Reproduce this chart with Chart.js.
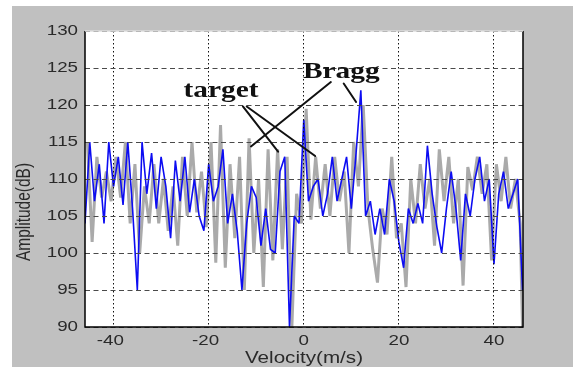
<!DOCTYPE html>
<html>
<head>
<meta charset="utf-8">
<script src="https://cdn.jsdelivr.net/npm/chart.js@4.4.1/dist/chart.umd.min.js"></script>
<style>
  html, body { margin: 0; padding: 0; background: #ffffff; }
  canvas { display: block; }
</style>
</head>
<body>
<canvas id="spectrum" width="573" height="367"></canvas>
<script>
// Doppler spectrum: two channels, amplitude (dB) against radial velocity (m/s)
const blueVelocity = [
  -46, -45, -44, -43, -42, -41, -40, -39, -38, -37, -36, -35, -34, -33, -32, -31,
  -30, -29, -28, -27, -26, -25, -24, -23, -22, -21, -20, -19, -18, -17, -16, -15,
  -14, -13, -12, -11, -10, -9, -8, -7, -6, -5, -4, -3, -2, -1, 0, 1,
  2, 3, 4, 5, 6, 7, 8, 9, 10, 11, 12, 13, 14, 15, 16, 17,
  18, 19, 20, 21, 22, 23, 24, 25, 26, 27, 28, 29, 30, 31, 32, 33,
  34, 35, 36, 37, 38, 39, 40, 41, 42, 43, 44, 45, 46
];
const blueAmplitude = [
  104, 115, 107, 112, 104, 115, 109, 113, 106.5, 115, 106, 95, 115, 108, 113.5, 106,
  113, 109, 102, 112.5, 107, 113, 105.5, 110, 105, 103, 112, 107, 109, 114, 104, 108,
  103, 95, 104, 109, 107.5, 101, 106, 100.5, 100, 111, 113, 90, 105, 104, 118, 107,
  109, 110, 105, 108, 113, 107, 110, 113, 106, 113.5, 122, 105, 107, 102.5, 106, 102.5,
  110, 107, 101.5, 98, 106, 104, 106.7, 104, 114.5, 108, 103.5, 100, 106, 111, 106, 99,
  108, 105, 110, 113, 107, 110, 98.5, 108, 111, 106, 108, 110, 95
];
const grayVelocity = [
  -45.5, -44.5, -43.5, -42.5, -41.5, -40.5, -39.5, -38.5, -37.5, -36.5, -35.5, -34.5,
  -33.5, -32.5, -31.5, -30.5, -29.5, -28.5, -27.5, -26.5, -25.5, -24.5, -23.5, -22.5,
  -21.5, -20.5, -19.5, -18.5, -17.5, -16.5, -15.5, -14.5, -13.5, -12.5, -11.5, -10.5,
  -9.5, -8.5, -7.5, -6.5, -5.5, -4.5, -3.5, -2.5, -1.5, -0.5, 0.5, 1.5,
  2.5, 3.5, 4.5, 5.5, 6.5, 7.5, 8.5, 9.5, 10.5, 11.5, 12.5, 13.5,
  14.5, 15.5, 16.5, 17.5, 18.5, 19.5, 20.5, 21.5, 22.5, 23.5, 24.5, 25.5,
  26.5, 27.5, 28.5, 29.5, 30.5, 31.5, 32.5, 33.5, 34.5, 35.5, 36.5, 37.5,
  38.5, 39.5, 40.5, 41.5, 42.5, 43.5, 44.5, 45.5, 46
];
const grayAmplitude = [
  115, 101.5, 113, 107.5, 111, 107, 113, 107.5, 115, 104, 112, 100,
  109, 104, 112, 104, 110, 103, 109, 101, 113, 105, 115, 105.5,
  111, 103.5, 115, 98.7, 117.3, 98, 112, 102, 113, 95, 115.5, 100,
  110, 95.4, 114, 99, 114, 100.5, 113, 90, 108, 104, 119.5, 104.5,
  113, 106, 112, 105, 113, 107, 111, 100, 115, 109, 120, 106,
  100.5, 96, 106, 102.5, 113, 102, 104, 95.4, 110, 104, 112, 106,
  110, 101, 114, 107, 113, 104, 110, 95.6, 111.6, 108.5, 113, 108,
  112, 99, 112, 107, 113, 106, 110, 104, 90
];
const xTickValues = [-40, -20, 0, 20, 40];
const yTickValues = [90, 95, 100, 105, 110, 115, 120, 125, 130];
const xAxisTitle = 'Velocity(m/s)';
const yAxisTitle = 'Amplitude(dB)';
const annotationWords = ['target', 'Bragg'];

// Callout placement, in axis units
const callouts = {
  words: [
    { x: -17.4, y: 121.1 },
    { x: 7.9, y: 123.6 }
  ],
  pointers: [
    [-12.8, 119.8, -5.4, 113.7],
    [-12.0, 119.8, 2.4, 113.1],
    [5.7, 123.1, -11.1, 114.4],
    [8.4, 122.9, 11.0, 120.4]
  ]
};

const STRETCH = 1.25;   // text is drawn horizontally widened

function wideText(ctx, text, x, y, align, baseline) {
  ctx.save();
  ctx.translate(x, y);
  ctx.scale(STRETCH, 1);
  ctx.textAlign = align;
  ctx.textBaseline = baseline;
  ctx.fillText(text, 0, 0);
  ctx.restore();
}

const framePlugin = {
  id: 'frame',
  beforeDraw(chart) {
    const { ctx, width, height, chartArea: a } = chart;
    ctx.save();
    ctx.fillStyle = '#ffffff';
    ctx.fillRect(0, 0, width, height);
    ctx.fillStyle = '#c0c0c0';
    ctx.fillRect(12, 6, width - 12, height - 6);
    ctx.fillStyle = '#ffffff';
    ctx.fillRect(a.left, a.top, a.right - a.left, a.bottom - a.top);
    ctx.restore();
  },
  afterDraw(chart) {
    const { ctx, chartArea: a } = chart;
    const xs = chart.scales.x, ys = chart.scales.y;
    ctx.save();

    // axes box
    ctx.lineWidth = 1.5;
    ctx.strokeStyle = '#000000';
    ctx.beginPath();
    ctx.moveTo(a.left, a.top);
    ctx.lineTo(a.left, a.bottom);
    ctx.lineTo(a.right, a.bottom);
    ctx.lineTo(a.right, a.top);
    ctx.stroke();
    ctx.strokeStyle = '#dcdcdc';
    ctx.beginPath();
    ctx.moveTo(a.left, a.top);
    ctx.lineTo(a.right, a.top);
    ctx.stroke();

    // tick labels
    ctx.fillStyle = '#2a2a2a';
    ctx.font = '15px "Liberation Sans", Arial, sans-serif';
    yTickValues.forEach(v => {
      wideText(ctx, String(v), a.left - 7, ys.getPixelForValue(v), 'right', 'middle');
    });
    xTickValues.forEach(v => {
      const label = String(v);
      const digitsW = ctx.measureText(label.replace('-', '')).width * STRETCH;
      wideText(ctx, label, xs.getPixelForValue(v) + digitsW / 2, a.bottom + 14, 'right', 'middle');
    });

    // axis titles
    ctx.font = '16.5px "Liberation Sans", Arial, sans-serif';
    wideText(ctx, xAxisTitle, (a.left + a.right) / 2, a.bottom + 36, 'center', 'alphabetic');
    ctx.font = '15.5px "Liberation Sans", Arial, sans-serif';
    ctx.save();
    ctx.translate(25, (a.top + a.bottom) / 2 + 33);
    ctx.scale(STRETCH, 1);
    ctx.rotate(-Math.PI / 2);
    ctx.textAlign = 'center';
    ctx.textBaseline = 'middle';
    ctx.fillText(yAxisTitle, 0, 0);
    ctx.restore();

    // callouts
    ctx.strokeStyle = '#111111';
    ctx.lineWidth = 2;
    ctx.lineCap = 'round';
    callouts.pointers.forEach(p => {
      ctx.beginPath();
      ctx.moveTo(xs.getPixelForValue(p[0]), ys.getPixelForValue(p[1]));
      ctx.lineTo(xs.getPixelForValue(p[2]), ys.getPixelForValue(p[3]));
      ctx.stroke();
    });
    ctx.fillStyle = '#111111';
    ctx.font = 'bold 23.5px "Liberation Serif", "Times New Roman", serif';
    callouts.words.forEach((w, i) => {
      wideText(ctx, annotationWords[i], xs.getPixelForValue(w.x), ys.getPixelForValue(w.y), 'center', 'alphabetic');
    });
    ctx.restore();
  }
};

const toPoints = (xv, yv) => xv.map((v, i) => ({ x: v, y: yv[i] }));

new Chart(document.getElementById('spectrum'), {
  type: 'line',
  data: {
    datasets: [
      {
        label: 'channel 1',
        data: toPoints(blueVelocity, blueAmplitude),
        borderColor: '#0c0cf2',
        borderWidth: 1.6,
        pointRadius: 0,
        tension: 0,
        borderJoinStyle: 'bevel'
      },
      {
        label: 'channel 2',
        data: toPoints(grayVelocity, grayAmplitude),
        borderColor: '#aaaaaa',
        borderWidth: 3,
        pointRadius: 0,
        tension: 0,
        borderJoinStyle: 'bevel'
      }
    ]
  },
  options: {
    responsive: false,
    animation: false,
    events: [],
    layout: { padding: { left: 0, right: 50, top: 31, bottom: 0 } },
    plugins: { legend: { display: false }, tooltip: { enabled: false } },
    scales: {
      x: {
        type: 'linear',
        min: -46,
        max: 46.1,
        afterBuildTicks: s => { s.ticks = xTickValues.map(v => ({ value: v })); },
        afterFit: s => { s.height = 40; },
        ticks: { display: false },
        grid: { color: '#111111', lineWidth: 1, drawTicks: false, z: 1 },
        border: { display: false, dash: [1.5, 2.5] }
      },
      y: {
        type: 'linear',
        min: 90,
        max: 130,
        afterBuildTicks: s => { s.ticks = yTickValues.map(v => ({ value: v })); },
        afterFit: s => { s.width = 85; },
        ticks: { display: false },
        grid: { color: '#4a4a4a', lineWidth: 1, drawTicks: false, z: 1 },
        border: { display: false, dash: [5, 3.5] }
      }
    }
  },
  plugins: [framePlugin]
});
</script>
</body>
</html>
